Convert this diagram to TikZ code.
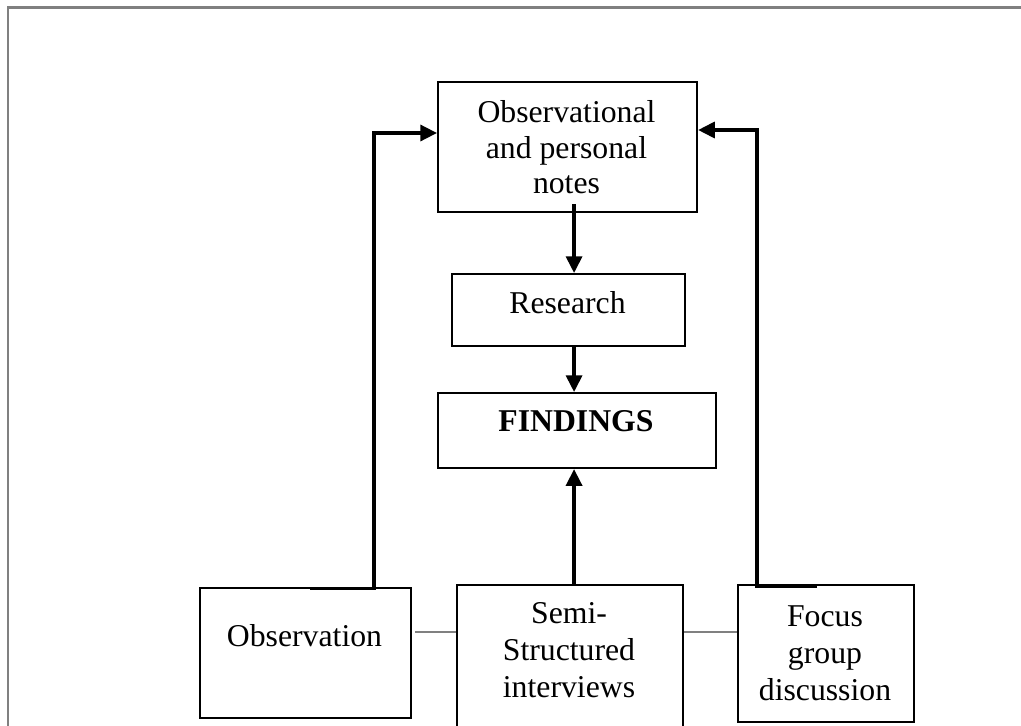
\documentclass[tikz,border=0pt]{standalone}
\usepackage{fontspec}
\setmainfont{Liberation Serif}
\usetikzlibrary{arrows.meta,calc}
\begin{document}
\begin{tikzpicture}[x=0.75pt,y=-0.75pt,
  box/.style={draw=black, line width=1.6pt, rectangle, inner sep=0pt, anchor=north west},
  txt/.style={align=center, inner sep=0pt, anchor=north},
  conn/.style={line width=2.5pt, line join=miter, -{Triangle[length=12.5pt,width=12pt]}},
  link/.style={draw=gray, line width=1.6pt},
  rule/.style={draw=black!50, line width=1.6pt}]
\useasboundingbox (0,0) rectangle (1021,725);

% page frame
\draw[rule] (7,7.5) -- (1022,7.5);
\draw[rule] (8,7) -- (8,726);

% boxes
\node[box, minimum width=259*0.75pt, minimum height=130*0.75pt] (notes) at (437,81) {};
\node[box, minimum width=233*0.75pt, minimum height=72*0.75pt] (research) at (451,273) {};
\node[box, minimum width=278*0.75pt, minimum height=75*0.75pt] (findings) at (437,392) {};
\node[box, minimum width=211*0.75pt, minimum height=130*0.75pt] (obs) at (199,587) {};
\node[box, minimum width=226*0.75pt, minimum height=150*0.75pt] (semi) at (456,584) {};
\node[box, minimum width=176*0.75pt, minimum height=137*0.75pt] (focus) at (737,584) {};

% texts
\node[txt, font=\fontsize{23.8}{26.6}\selectfont] (notesT) at (566.5,100.5) {Observational\\and personal\\notes};
\node[txt, font=\fontsize{23.8}{27.8}\selectfont] (researchT) at (567.5,291.5) {Research};
\node[txt, font=\fontsize{23.8}{27.8}\selectfont\bfseries] (findingsT) at (576,410.5) {FINDINGS};
\node[txt, font=\fontsize{23.8}{27.8}\selectfont] (obsT) at (304.5,624.5) {Observation};
\node[txt, font=\fontsize{23.8}{27.8}\selectfont] (semiT) at (569,602.5) {Semi-\\Structured\\interviews};
\node[txt, font=\fontsize{23.8}{27.8}\selectfont] (focusT) at (825,605.5) {Focus\\group\\discussion};

% connector end points
\coordinate (obsTap) at ($(obs.north west)+(111,1.5)$);
\coordinate (notesInL) at ($(notes.north west)+(0,52)$);
\coordinate (focusTap) at ($(focus.north west)+(80,2)$);
\coordinate (notesInR) at ($(notes.north east)+(0,49)$);
\coordinate (nOut) at ($(notes.south)+(6.5,-9)$);
\coordinate (rOut) at ($(research.south)+(5.5,0)$);
\coordinate (sOut) at ($(semi.north)+(4,0)$);

% arrows
\draw[conn] (obsTap) -- ++(64,0) |- (notesInL);
\draw[conn] (focusTap) -- ++(-60,0) |- (notesInR);
\draw[conn] (nOut) -- (nOut |- research.north);
\draw[conn] (rOut) -- (rOut |- findings.north);
\draw[conn] (sOut) -- (sOut |- findings.south);

% grey links between the three sources
\draw[link] ($(obs.north east)+(3,45)$) -- ($(semi.north west)+(0,48)$);
\draw[link] ($(semi.north east)+(0,48)$) -- ($(focus.north west)+(0,48)$);
\end{tikzpicture}
\end{document}
